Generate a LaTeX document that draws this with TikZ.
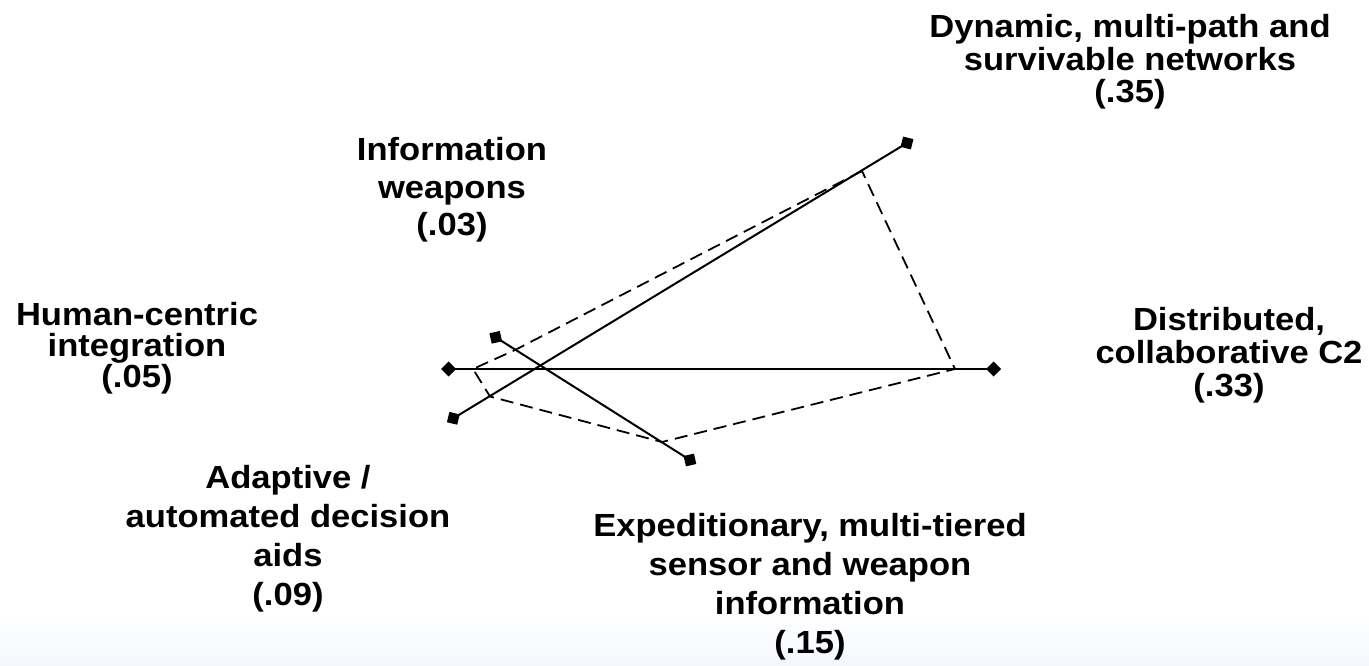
\documentclass[tikz,border=0pt]{standalone}
\usepackage{fontspec}
\setmainfont[FakeStretch=1.08]{Liberation Sans}
\usetikzlibrary{arrows.meta}

\begin{document}
\begin{tikzpicture}[x=1pt,y=-1pt,
  axisline/.style={line width=2pt,
    {Turned Square[length=15pt,width=15pt]}-{Turned Square[length=15pt,width=15pt]}},
  scoreline/.style={line width=1.8pt, dash pattern=on 13pt off 7pt, line join=miter},
  lbl/.style={font=\bfseries\fontsize{32}{#1}\selectfont, align=center,
    anchor=base, inner sep=0pt},
  lbl/.default=34
]
\useasboundingbox (0,0) rectangle (1369,666);
\fill[white] (0,0) rectangle (1369,666);
\shade[top color=white, bottom color={rgb,255:red,244;green,247;blue,252}]
  (0,612) rectangle (1369,666);

% axis end points
\coordinate (hcE) at (441,369);
\coordinate (dcE) at (1001,369);
\coordinate (adE) at (446.9,422.2);
\coordinate (dnE) at (913.4,139.1);
\coordinate (iwE) at (489.4,333.3);
\coordinate (exE) at (696.3,464);

% score points on the axes
\coordinate (vdn) at (862,171);
\coordinate (viw) at (515,350);
\coordinate (vhc) at (473,369);
\coordinate (vad) at (490,396.5);
\coordinate (vex) at (662,442);
\coordinate (vdc) at (955,369);

% axes
\draw[axisline] (hcE) -- (dcE);
\draw[axisline] (adE) -- (dnE);
\draw[axisline] (iwE) -- (exE);

% score polygon
\draw[scoreline] (vdn) -- (viw) -- (vhc) -- (vad) -- (vex) -- (vdc) -- cycle;

% labels (anchored at the baseline of their last line)
\node[lbl=33] (dyn) at (1130,103) {Dynamic, multi-path and\\survivable networks\\(.35)};
\node[lbl=37] (inf) at (452,235) {Information\\weapons\\(.03)};
\node[lbl=31] (hum) at (137,387) {Human-centric\\integration\\(.05)};
\node[lbl=39] (ada) at (288,605) {Adaptive /\\automated decision\\aids\\(.09)};
\node[lbl=39] (exp) at (810,653) {Expeditionary, multi-tiered\\sensor and weapon\\information\\(.15)};
\node[lbl=33] (dis) at (1229,396) {Distributed,\\collaborative C2\\(.33)};
\end{tikzpicture}
\end{document}
